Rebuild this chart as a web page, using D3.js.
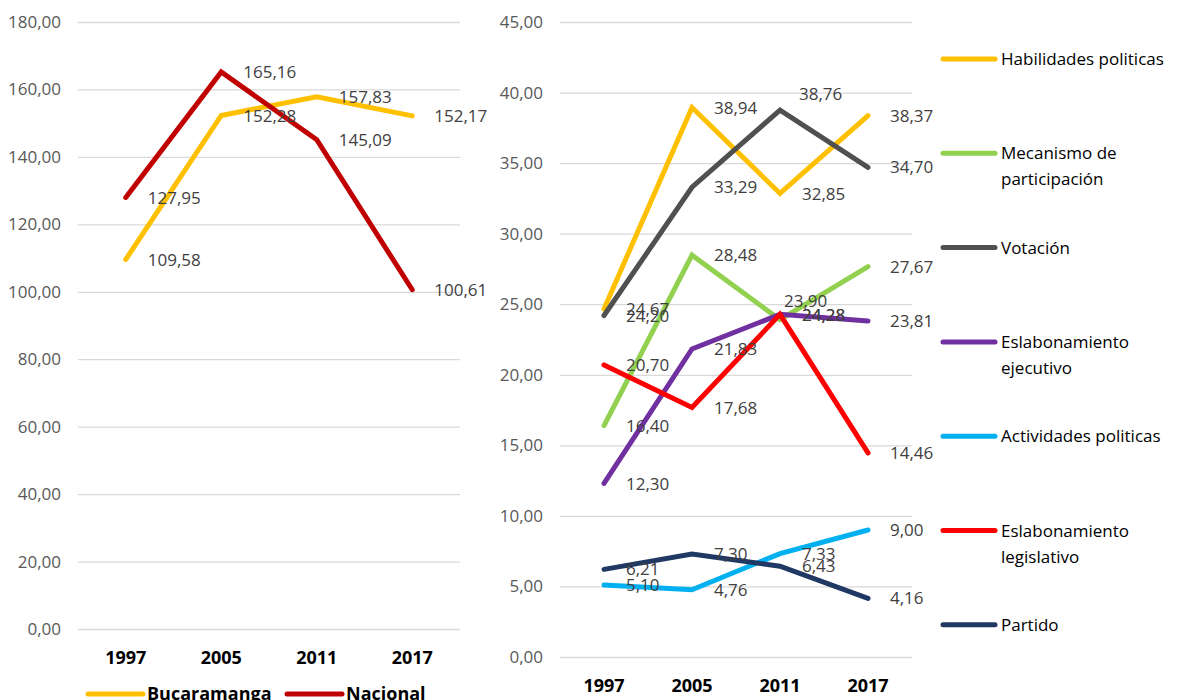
<!DOCTYPE html>
<html>
<head>
<meta charset="utf-8">
<script src="https://cdn.jsdelivr.net/npm/d3@7"></script>
<style>
  body { margin: 0; background: #fff; }
  text { font-family: "Open Sans", "Noto Sans", sans-serif; }
</style>
</head>
<body>
<div class="chart"></div>
<script>
// data
var years = ["1997", "2005", "2011", "2017"];

var leftNames = ["Bucaramanga", "Nacional"];
var bucaramanga = [109.58, 152.28, 157.83, 152.17];
var nacional = [127.95, 165.16, 145.09, 100.61];
var leftTicks = [0, 20, 40, 60, 80, 100, 120, 140, 160, 180];

var rightNames = [
  ["Habilidades politicas"],
  ["Mecanismo de", "participación"],
  ["Votación"],
  ["Eslabonamiento", "ejecutivo"],
  ["Actividades politicas"],
  ["Eslabonamiento", "legislativo"],
  ["Partido"]
];
var habilidades = [24.67, 38.94, 32.85, 38.37];
var mecanismo = [16.40, 28.48, 23.90, 27.67];
var votacion = [24.20, 33.29, 38.76, 34.70];
var ejecutivo = [12.30, 21.83, 24.28, 23.81];
var actividades = [5.10, 4.76, 7.33, 9.00];
var legislativo = [20.70, 17.68, 24.28, 14.46];
var partido = [6.21, 7.30, 6.43, 4.16];
var rightTicks = [0, 5, 10, 15, 20, 25, 30, 35, 40, 45];

var leftColors = ["#FFC000", "#C00000"];
var rightColors = ["#FFC000", "#92D050", "#505050", "#7030A0", "#00B0F0", "#FF0000", "#203864"];

var svgWidth = 1179;
var svgHeight = 700;

var svg = d3.select(".chart")
  .append("svg")
  .attr("width", svgWidth)
  .attr("height", svgHeight)
  .style("display", "block");

var comma = d3.formatLocale({decimal: ",", thousands: ".", grouping: [3], currency: ["", ""]});
var fmt = comma.format(".2f");

function drawPanel(opts) {
  var x = d3.scaleBand().domain(years).range([opts.x0, opts.x1]);
  var y = d3.scaleLinear().domain([0, opts.max]).range([opts.y0, opts.y1]);
  var cx = function(d) { return x(d) + x.bandwidth() / 2; };
  var shift = opts.shift || {};

  // gridlines + y labels
  var yAxis = svg.append("g")
    .attr("transform", `translate(${opts.x0},0)`)
    .call(d3.axisLeft(y).tickValues(opts.ticks).tickSize(-(opts.x1 - opts.x0)).tickPadding(17).tickFormat(fmt));
  yAxis.select(".domain").remove();
  yAxis.selectAll("line").attr("stroke", "#D9D9D9").attr("stroke-width", 1.3);
  yAxis.selectAll("text").attr("fill", "#595959").style("font-size", "17px");

  // x labels
  var xAxis = svg.append("g")
    .attr("transform", `translate(0,${opts.y0})`)
    .call(d3.axisBottom(x).tickSize(0).tickPadding(opts.xPad));
  xAxis.select(".domain").remove();
  xAxis.selectAll("text").attr("fill", "#000").style("font-size", "18px").style("font-weight", "bold");

  var line = d3.line()
    .x(function(d, i) { return cx(years[i]); })
    .y(function(d) { return y(d); });

  opts.series.forEach(function(s, k) {
    svg.append("path")
      .datum(s)
      .attr("fill", "none")
      .attr("stroke", opts.colors[k])
      .attr("stroke-width", 5)
      .attr("stroke-linecap", "round")
      .attr("stroke-linejoin", "miter")
      .attr("d", line);
  });

  // data labels, to the right of each point (a couple were moved by hand in the original)
  opts.series.forEach(function(s, k) {
    svg.append("g").selectAll("text")
      .data(s)
      .enter()
      .append("text")
      .attr("x", function(d, i) { var o = shift[k + "-" + i] || [0, 0]; return cx(years[i]) + 22 + o[0]; })
      .attr("y", function(d, i) { var o = shift[k + "-" + i] || [0, 0]; return y(d) + o[1]; })
      .attr("dy", "0.36em")
      .attr("fill", "#404040")
      .style("font-size", "17px")
      .text(function(d) { return fmt(d); });
  });
}

drawPanel({
  x0: 78, x1: 460, y0: 629, y1: 22, max: 180,
  ticks: leftTicks, xPad: 22,
  series: [bucaramanga, nacional], colors: leftColors
});

drawPanel({
  x0: 560, x1: 912, y0: 657, y1: 22, max: 45,
  ticks: rightTicks, xPad: 22,
  series: [habilidades, mecanismo, votacion, ejecutivo, actividades, legislativo, partido],
  colors: rightColors,
  shift: { "2-2": [-3, -16], "1-2": [-18, -19] }
});

// bottom legend (left panel)
var legL = svg.append("g").selectAll("g")
  .data(leftNames)
  .enter()
  .append("g")
  .attr("transform", function(d, i) { return `translate(${88 + i * 199},694)`; });
legL.append("line")
  .attr("x1", 0).attr("x2", 55)
  .attr("stroke", function(d, i) { return leftColors[i]; })
  .attr("stroke-width", 5)
  .attr("stroke-linecap", "round");
legL.append("text")
  .attr("x", 59)
  .attr("dy", "0.36em")
  .style("font-size", "18px")
  .style("font-weight", "bold")
  .attr("fill", "#000")
  .text(function(d) { return d; });

// side legend (right panel)
var legR = svg.append("g").selectAll("g")
  .data(rightNames)
  .enter()
  .append("g")
  .attr("transform", function(d, i) { return `translate(943,${59 + i * 94.3})`; });
legR.append("line")
  .attr("x1", 0).attr("x2", 52)
  .attr("stroke", function(d, i) { return rightColors[i]; })
  .attr("stroke-width", 5)
  .attr("stroke-linecap", "round");
legR.append("text")
  .attr("x", 58)
  .attr("fill", "#000")
  .style("font-size", "17px")
  .selectAll("tspan")
  .data(function(d) { return d; })
  .enter()
  .append("tspan")
  .attr("x", 58)
  .attr("y", function(d, j) { return j * 26; })
  .attr("dy", "0.36em")
  .text(function(d) { return d; });
</script>
</body>
</html>
